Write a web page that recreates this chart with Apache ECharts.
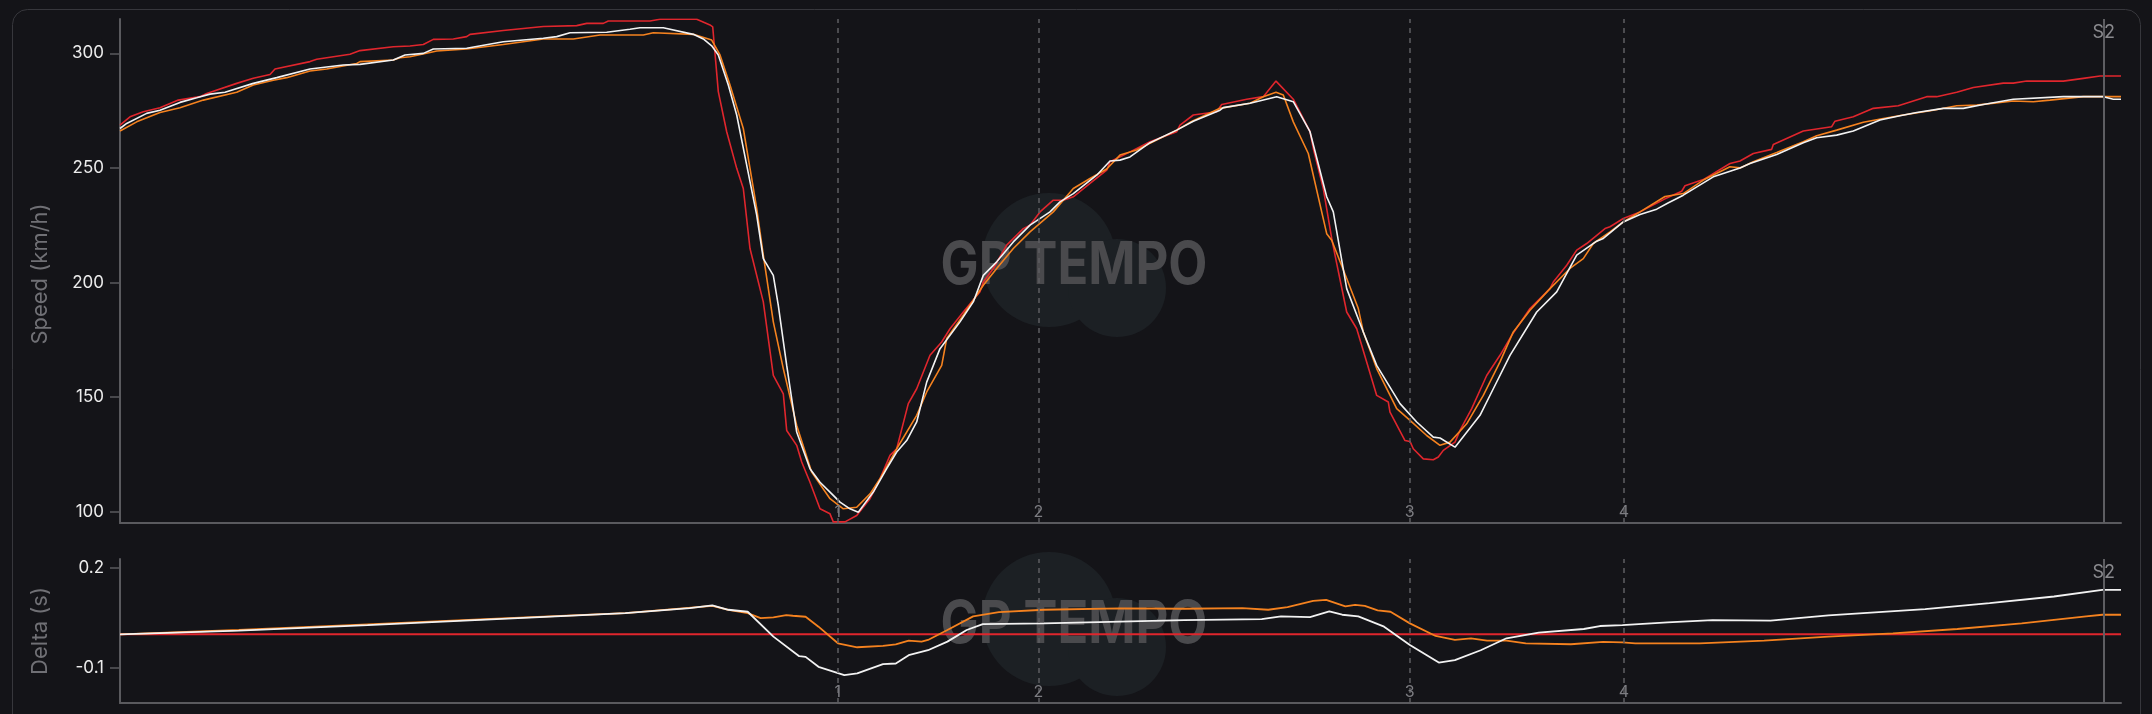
<!DOCTYPE html>
<html>
<head>
<meta charset="utf-8">
<script src="https://cdn.jsdelivr.net/npm/echarts@6.0.0/dist/echarts.min.js"></script>
<style>
html,body{margin:0;padding:0;background:#141418;}
#chart{width:2152px;height:714px;}
</style>
</head>
<body>
<div id="chart"></div>
<script>
// ---- Data (distance in m, speed in km/h, delta in s) ----
const redSpeedD = [0,10,23.3,40,58.3,80,86.7,116.7,133.3,150,155,190,196.7,230,240,273.3,290,303.3,313.3,333.3,346.7,350,383.3,423.3,456.7,466.7,483.3,488.3,510,530,540,576.7,590,592.7,598.3,606.7,616.7,623.3,630,643.3,653.3,663.3,666.7,676.7,681.7,690,700,710,713.3,725,736.7,750,760,770,776.7,788.3,796.7,810,821.7,830,843.3,860,863.3,873.3,886.7,903.3,910,920,933.3,943.3,953.3,970,986.7,990,1010,1030,1056.7,1060,1073.3,1096.7,1101.7,1126.7,1143.3,1156,1173.3,1190,1193.3,1203.3,1211.7,1215,1226.7,1236.7,1256.7,1268.3,1270,1285,1290,1293.3,1303.3,1313.3,1318.3,1323.3,1335,1340,1351.7,1366.7,1380,1391.7,1410,1430,1433.3,1446.7,1456.7,1466.7,1485,1490,1503.3,1520,1545,1561.7,1565,1583.3,1610,1620,1633.3,1651.7,1653.3,1683.3,1711.7,1715,1733.3,1753.3,1778.3,1806.7,1816.7,1836.7,1853.3,1883.3,1893.3,1906.7,1943.3,1963.3,1980,2001];
const redSpeedV = [268.7,272.3,274.5,276.3,279.6,281.1,282.5,286.9,289.1,290.8,293.2,296.4,297.4,299.6,301.2,302.9,303.2,303.9,306.1,306.3,307.3,308.3,310.0,311.7,312.1,313.1,313.1,314.1,314.1,314.1,314.9,314.9,312.4,311.6,283.3,265.8,249.8,241.0,214.8,191.5,159.4,151.4,135.4,128.9,121.6,112.8,101.2,99.0,95.5,95.5,98.3,105.6,114.3,124.5,127.4,147.1,153.6,168.2,174.0,179.8,187.1,195.9,200.2,206.1,216.3,223.5,225.0,230.8,235.9,235.9,237.4,243.2,249.0,252.7,257.0,261.4,265.8,268.7,273.1,274.5,277.7,280.0,281.1,287.9,280.0,265.8,258.5,241.0,219.2,211.9,187.1,179.8,150.7,147.8,143.4,131.0,130.6,127.4,123.0,122.6,123.8,126.7,130.3,135.4,144.9,159.4,168.2,176.9,188.6,197.3,200.2,207.5,214.1,217.0,223.5,224.3,227.9,230.8,236.5,239.8,242.2,244.9,251.9,253.0,256.3,258.1,260.2,266.1,268.0,270.4,272.3,276.0,277.1,281.1,281.1,283.0,285.1,287.0,287.0,287.9,287.9,289.1,290.1,290.1];

const orangeSpeedD = [0,16.7,40,60,83.3,116.7,133.3,153.3,166.7,190,206.7,236.7,240,273.3,280,290,310,316.7,346.7,383.3,423.3,453.3,480,510,523.3,533.3,573.3,591.7,600,610,623.3,630,636.7,643.3,653.3,663.3,676.7,691.7,710,723.3,736.7,750,760,776.7,796.7,806.7,821.7,826.7,843.3,863.3,876.7,893.3,910,933.3,953.3,970,986.7,1000,1016.7,1030,1056.7,1070,1100,1130,1143.3,1156,1163.3,1173.3,1188.3,1206.7,1211.7,1226.7,1238.3,1243.3,1256.7,1276.7,1290,1306.7,1320,1330,1346.7,1363.3,1380,1393.3,1410,1430,1450,1463.3,1473.3,1490,1503.3,1520,1545,1563.3,1583.3,1610,1620,1633.3,1656.7,1683.3,1696.7,1716.7,1743.3,1763.3,1783.3,1813.3,1836.7,1856.7,1893.3,1913.3,1930,1963.3,1983.3,2001];
const orangeSpeedV = [266.1,270.1,274.2,276.3,279.6,283.0,286.2,288.3,289.4,292.3,293.2,295.6,296.4,297.1,298.1,298.5,300.4,301.0,301.9,303.9,306.3,306.3,308.0,308.0,308.0,309.0,308.3,305.8,299.3,286.2,267.2,249.8,232.3,211.9,182.8,162.4,137.6,117.2,105.6,101.2,101.9,107.7,114.3,127.4,142.0,152.2,163.8,175.5,185.7,198.8,206.1,214.8,222.1,230.8,241.0,245.4,249.5,255.6,257.8,260.7,266.5,269.9,276.0,278.2,281.1,283.0,281.8,270.1,256.3,221.3,218.4,201.7,188.6,178.4,162.4,144.9,139.8,133.2,128.9,130.3,138.3,150.7,165.3,178.4,187.9,197.3,206.1,210.4,217.0,222.1,226.4,230.8,237.5,238.8,244.7,250.5,250.0,252.7,256.7,261.4,264.0,266.5,269.9,271.6,273.1,275.2,277.1,277.4,279.2,278.9,279.6,281.1,281.1,281.1];

const whiteSpeedD = [0,6.7,26.7,40,60,76.7,90,105,133.3,156.7,190,223.3,240,273.3,285,303.3,313.3,346.7,383.3,423.3,436.7,450,486.7,510,520,543.3,573.3,583.3,591.7,598.3,608.3,616.7,626.7,636.7,643.3,653.3,658.3,666.7,676.7,690,700,710,720,730,738.3,743.3,753.3,766.7,776.7,786.7,796.7,806.7,820,840,853.3,863.3,876.7,893.3,910,930,940,953.3,976.7,990,1000,1010,1030,1056.7,1073.3,1100,1103.3,1130,1156.7,1173.3,1190,1206.7,1213.3,1226.7,1243.3,1256.7,1280,1296.7,1313.3,1320,1335,1360,1373.3,1390,1416.7,1436.7,1456.7,1476.7,1483.3,1503.3,1520,1536.7,1548,1563.3,1593.3,1620,1630,1656.7,1683.3,1696.7,1716.7,1733.3,1760,1780,1796.7,1823.3,1843.3,1863.3,1893.3,1943.3,1983.3,1993.3,2001];
const whiteSpeedV = [267.2,269.4,273.8,275.2,278.6,280.6,282.2,283.0,286.9,289.4,293.2,294.9,295.2,297.1,299.3,300.0,301.9,302.2,305.1,306.6,307.3,309.0,309.2,310.5,311.2,311.2,308.3,306.3,303.3,299.3,286.2,273.1,251.2,229.4,210.4,203.1,190.0,163.8,134.7,118.7,112.8,108.5,104.1,101.2,99.7,102.6,108.5,118.7,126.0,131.0,139.1,156.5,171.1,182.8,191.5,203.1,209.0,217.7,225.0,230.8,235.2,238.8,246.8,253.0,253.4,254.8,261.0,266.5,270.4,275.2,276.3,278.2,281.1,278.9,265.8,237.4,230.8,197.3,178.4,163.8,147.1,139.1,132.5,132.1,128.1,142.0,153.6,168.2,187.1,195.9,211.9,218.0,219.2,226.4,229.7,232.0,234.7,238.1,246.1,250.0,251.9,255.9,261.0,263.2,264.3,266.1,270.9,272.8,274.2,276.0,276.0,277.7,280.0,281.1,281.1,280.0,280.0];

const orangeDeltaD = [0,118.8,247.6,376.5,505.3,592.3,608.4,627.7,640.6,653.4,666.3,672.8,685.6,698.5,717.9,737.2,763,775.8,788.7,801.6,808,827.4,853.1,878.9,924,1000,1064.4,1122.4,1148.2,1167.5,1193.2,1206.1,1225.4,1235.1,1244.8,1257.6,1270.5,1289.9,1315.6,1334.9,1351,1367.1,1386.5,1405.8,1450.9,1483.1,1502.4,1515.3,1579.7,1644.1,1708.5,1772.9,1837.3,1901.7,1966.1,1982.3,2001];
const orangeDeltaV = [0,0.013,0.030,0.047,0.064,0.086,0.074,0.064,0.049,0.051,0.058,0.056,0.053,0.023,-0.027,-0.039,-0.035,-0.030,-0.019,-0.022,-0.017,0.013,0.054,0.067,0.074,0.078,0.077,0.079,0.074,0.082,0.101,0.104,0.084,0.089,0.086,0.072,0.068,0.033,-0.005,-0.017,-0.012,-0.019,-0.019,-0.027,-0.030,-0.023,-0.024,-0.027,-0.027,-0.019,-0.007,0.003,0.016,0.033,0.054,0.059,0.059];

const whiteDeltaD = [0,118.8,247.6,376.5,505.3,569.7,592.3,608.4,627.7,653.4,679.2,685.6,698.5,724.3,737.2,763,775.8,788.7,808,827.4,846.7,862.8,924,1000,1064.4,1141.7,1161,1190,1209.3,1222.2,1238.3,1264.1,1289.9,1318.8,1334.9,1360.7,1386.5,1418.7,1463.8,1479.9,1502.4,1547.5,1592.6,1650.6,1708.5,1805.2,1869.6,1934,1982.3,2001];
const whiteDeltaV = [0,0.011,0.028,0.046,0.064,0.079,0.087,0.074,0.068,-0.007,-0.066,-0.068,-0.098,-0.123,-0.118,-0.090,-0.088,-0.063,-0.048,-0.022,0.013,0.031,0.033,0.038,0.043,0.046,0.054,0.052,0.069,0.059,0.054,0.023,-0.032,-0.085,-0.078,-0.048,-0.012,0.005,0.016,0.025,0.028,0.036,0.043,0.041,0.057,0.076,0.094,0.114,0.134,0.134];

const refDeltaD = [0, 2001];
const refDeltaV = [0, 0];

const markerNames = ['1', '2', '3', '4', 'S2'];
const markerDist = [717.7, 918.3, 1289.8, 1504, 1983.7];

const speedTicks = [100, 150, 200, 250, 300];
const deltaTicks = [-0.1, 0.2];
const axisTitles = ['Speed (km/h)', 'Delta (s)'];

// ---- Build ----
const zip = (d, v) => d.map((x, i) => [x, v[i]]);
const RED = '#e0262d', ORANGE = '#f5821f', WHITE = '#f2f2f2';
const AXIS = '#5a5a5e';
const FONT = 'Inter';

const SPEED_MIN = 95, SPEED_MAX = 315, DELTA_MIN = -0.207, DELTA_MAX = 0.227;
const GRIDS = [
  { left: 120, right: 31, top: 19, height: 504 },
  { left: 120, right: 31, top: 559, height: 144 }
];

function markLines() {
  return {
    silent: true, symbol: ['none', 'none'], animation: false,
    label: { show: false },
    data: markerNames.map((n, i) => ({
      xAxis: markerDist[i],
      lineStyle: n === 'S2'
        ? { type: 'solid', color: '#5e5e62', width: 2 }
        : { type: [5, 5], color: '#5e5e62', width: 1.5 }
    }))
  };
}
function markPoints(ymin, ymax) {
  return {
    silent: true, symbol: 'circle', symbolSize: 0, animation: false,
    itemStyle: { color: 'transparent' },
    data: markerNames.map((n, i) => ({
      coord: [markerDist[i], n === 'S2' ? ymax : ymin],
      value: n,
      label: {
        show: true, formatter: n, position: n === 'S2' ? 'bottom' : 'top',
        distance: n === 'S2' ? 5 : 3,
        color: n === 'S2' ? '#8a8a8e' : '#7d7d82',
        fontSize: n === 'S2' ? 18 : 16, fontFamily: FONT
      }
    }))
  };
}

function lineSeries(name, data, color, xi, yi, width, extra) {
  return Object.assign({
    name, type: 'line', data, xAxisIndex: xi, yAxisIndex: yi,
    symbol: 'none', showSymbol: false, animation: false,
    lineStyle: { color, width }, itemStyle: { color }
  }, extra || {});
}

function watermark(dy) {
  return [
    { type: 'circle', z: 0, silent: true, shape: { cx: 1049, cy: 260 + dy, r: 67 }, style: { fill: '#1c2024' } },
    { type: 'circle', z: 0, silent: true, shape: { cx: 1117, cy: 288 + dy, r: 49 }, style: { fill: '#1c2024' } },
    { type: 'text', z: 1, silent: true, x: 1074, y: 266 + dy, scaleX: 0.86,
      style: { text: 'GP TEMPO', font: 'bold 59px Inter', fill: '#4a4a4d', align: 'center', verticalAlign: 'middle' } }
  ];
}
function axisTitle(i) {
  const g = GRIDS[i];
  return { type: 'text', z: 5, silent: true, x: g.left - 80, y: g.top + g.height / 2 + (i === 0 ? 3 : 0),
    rotation: Math.PI / 2,
    style: { text: axisTitles[i], font: '22px Inter', fill: '#707075', align: 'center', verticalAlign: 'middle' } };
}

const option = {
  backgroundColor: '#141418',
  animation: false,
  grid: GRIDS,
  xAxis: [0, 1].map(g => ({
    gridIndex: g, type: 'value', min: 0, max: 2001,
    axisLine: { show: true, onZero: false, lineStyle: { color: AXIS, width: 2 } },
    axisTick: { show: false }, axisLabel: { show: false }, splitLine: { show: false }
  })),
  yAxis: [
    {
      type: 'value', gridIndex: 0, min: SPEED_MIN, max: SPEED_MAX, splitLine: { show: false },
      axisLine: { show: true, lineStyle: { color: AXIS, width: 2 } },
      axisTick: { show: true, length: 10, customValues: speedTicks, lineStyle: { color: AXIS, width: 1.5 } },
      axisLabel: { customValues: speedTicks, color: '#ececec', fontSize: 17, fontFamily: FONT, margin: 16 }
    },
    {
      type: 'value', gridIndex: 1, min: DELTA_MIN, max: DELTA_MAX, splitLine: { show: false },
      axisLine: { show: true, lineStyle: { color: AXIS, width: 2 } },
      axisTick: { show: true, length: 10, customValues: deltaTicks, lineStyle: { color: AXIS, width: 1.5 } },
      axisLabel: { customValues: deltaTicks, color: '#ececec', fontSize: 17, fontFamily: FONT, margin: 16,
        formatter: v => (Math.round(v * 10) / 10).toString() }
    }
  ],
  graphic: [
    { type: 'rect', z: -1, silent: true, shape: { x: 12.5, y: 9.5, width: 2128, height: 760, r: 15 },
      style: { fill: 'none', stroke: '#37373c', lineWidth: 1 } },
    axisTitle(0), axisTitle(1)
  ].concat(watermark(0), watermark(359)),
  series: [
    lineSeries('Red', zip(redSpeedD, redSpeedV), RED, 0, 0, 1.6, { markLine: markLines(), markPoint: markPoints(SPEED_MIN, SPEED_MAX) }),
    lineSeries('Orange', zip(orangeSpeedD, orangeSpeedV), ORANGE, 0, 0, 1.6),
    lineSeries('White', zip(whiteSpeedD, whiteSpeedV), WHITE, 0, 0, 1.6),
    lineSeries('Red Δ', zip(refDeltaD, refDeltaV), RED, 1, 1, 2, { markLine: markLines(), markPoint: markPoints(DELTA_MIN, DELTA_MAX) }),
    lineSeries('Orange Δ', zip(orangeDeltaD, orangeDeltaV), ORANGE, 1, 1, 1.8),
    lineSeries('White Δ', zip(whiteDeltaD, whiteDeltaV), WHITE, 1, 1, 1.8)
  ]
};

const chart = echarts.init(document.getElementById('chart'), null, { renderer: 'canvas' });
chart.setOption(option);
</script>
</body>
</html>
